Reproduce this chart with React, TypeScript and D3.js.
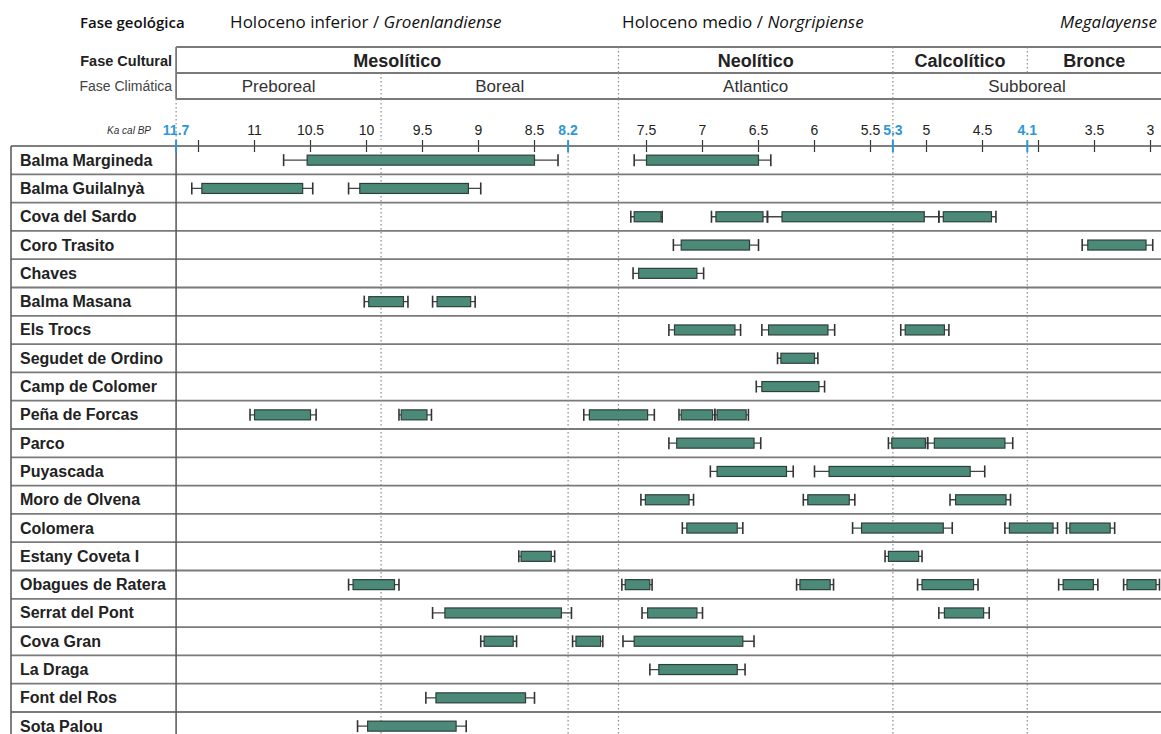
import React from 'react';
import * as d3 from 'd3';

// Sites, top to bottom
const sites = [
  'Balma Margineda', 'Balma Guilalnyà', 'Cova del Sardo', 'Coro Trasito', 'Chaves',
  'Balma Masana', 'Els Trocs', 'Segudet de Ordino', 'Camp de Colomer', 'Peña de Forcas',
  'Parco', 'Puyascada', 'Moro de Olvena', 'Colomera', 'Estany Coveta I',
  'Obagues de Ratera', 'Serrat del Pont', 'Cova Gran', 'La Draga', 'Font del Ros', 'Sota Palou',
];

// Calibrated ranges per site (ka cal BP): [outer old, inner old, inner young, outer young]
const siteRanges: number[][][] = [
  [[10.74, 10.53, 8.5, 8.29], [7.61, 7.5, 6.5, 6.39]],
  [[11.56, 11.47, 10.57, 10.48], [10.16, 10.06, 9.09, 8.98]],
  [[7.64, 7.61, 7.37, 7.36], [6.92, 6.88, 6.46, 6.42], [6.42, 6.29, 5.02, 4.89], [4.89, 4.85, 4.42, 4.38]],
  [[7.26, 7.19, 6.58, 6.5], [3.61, 3.56, 3.04, 2.98]],
  [[7.62, 7.57, 7.05, 6.99]],
  [[10.02, 9.98, 9.67, 9.63], [9.41, 9.37, 9.07, 9.03]],
  [[7.3, 7.25, 6.71, 6.66], [6.47, 6.41, 5.88, 5.82], [5.23, 5.19, 4.84, 4.8]],
  [[6.33, 6.3, 6.0, 5.97]],
  [[6.52, 6.47, 5.96, 5.91]],
  [[11.04, 11.0, 10.5, 10.45], [9.71, 9.69, 9.46, 9.42], [8.06, 8.01, 7.49, 7.43], [7.21, 7.19, 6.91, 6.89], [6.89, 6.87, 6.61, 6.59]],
  [[7.3, 7.23, 6.54, 6.48], [5.34, 5.31, 5.01, 4.99], [4.99, 4.93, 4.3, 4.23]],
  [[6.93, 6.87, 6.25, 6.19], [6.0, 5.87, 4.61, 4.48]],
  [[7.55, 7.51, 7.12, 7.08], [6.1, 6.06, 5.69, 5.64], [4.79, 4.74, 4.29, 4.25]],
  [[7.18, 7.14, 6.69, 6.64], [5.66, 5.58, 4.85, 4.77], [4.3, 4.26, 3.87, 3.83], [3.75, 3.72, 3.36, 3.32]],
  [[8.64, 8.62, 8.35, 8.32], [5.37, 5.34, 5.07, 5.04]],
  [[10.16, 10.12, 9.75, 9.71], [7.72, 7.69, 7.47, 7.45], [6.16, 6.13, 5.86, 5.83], [5.08, 5.04, 4.58, 4.54], [3.82, 3.78, 3.51, 3.47], [3.24, 3.21, 2.95, 2.92]],
  [[9.41, 9.3, 8.26, 8.17], [7.54, 7.49, 7.05, 7.0], [4.89, 4.84, 4.49, 4.44]],
  [[8.98, 8.95, 8.69, 8.66], [8.16, 8.13, 7.91, 7.89], [7.71, 7.61, 6.64, 6.54]],
  [[7.47, 7.39, 6.69, 6.62]],
  [[9.47, 9.38, 8.58, 8.5]],
  [[10.08, 9.99, 9.2, 9.11]],
];

// Axis ticks
const labelTicks = [11, 10.5, 10, 9.5, 9, 8.5, 7.5, 7, 6.5, 6, 5.5, 5, 4.5, 3.5, 3];
const plainTicks = [11.5, 4];
const boundaryTicks = [11.7, 8.2, 5.3, 4.1];

// Phases (start/end in ka cal BP)
const culturalPhases = [
  { name: 'Mesolítico', start: 11.7, end: 7.75 },
  { name: 'Neolítico', start: 7.75, end: 5.3 },
  { name: 'Calcolítico', start: 5.3, end: 4.1 },
  { name: 'Bronce', start: 4.1, end: 2.9 },
];
const climaticPhases = [
  { name: 'Preboreal', start: 11.7, end: 9.87 },
  { name: 'Boreal', start: 9.87, end: 7.75 },
  { name: 'Atlantico', start: 7.75, end: 5.3 },
  { name: 'Subboreal', start: 5.3, end: 2.9 },
];
const geoPhases = [
  { name: 'Holoceno inferior / ', stage: 'Groenlandiense', start: 11.7 },
  { name: 'Holoceno medio / ', stage: 'Norgripiense', start: 8.2 },
  { name: '', stage: 'Megalayense', start: 4.2 },
];

// Dotted guides
const gapGuides = [11.7, 9.87, 7.75, 5.3];
const bodyGuides = [9.87, 8.2, 7.75, 5.3, 4.1];

const W = 1161;
const H = 734;
const SANS = 'Liberation Sans, Arial, sans-serif';
const GEO = '"Open Sans", sans-serif';

export default function App() {
  const x = d3.scaleLinear().domain([11.7, 2.9]).range([176.1, 1161.7]);
  const rowTop = 146;
  const rowH = 28.3;
  const y = d3.scaleBand<string>().domain(sites).range([rowTop, rowTop + rowH * sites.length]);

  const cultTop = 47, cultBot = 73, climBot = 99;
  const axisY = rowTop;
  const tableLeft = 11;
  const plotLeft = x(11.7);
  const lineColor = '#7a7a7a';
  const dotted = { stroke: '#8a8a8a', strokeWidth: 1.2, strokeDasharray: '1.5 2.5' };
  const fmt = (v: number) => String(v);

  const boxH = 10;
  const capH = 12;

  return (
    <div style={{ position: 'absolute', left: 0, top: 0 }}>
      <svg width={W} height={H} style={{ display: 'block', background: '#fff' }}>
        {/* geological phases */}
        <text x={80} y={28} fontFamily={GEO} fontWeight={600} fontSize={15} fill="#111">Fase geológica</text>
        {geoPhases.map((g, i) => {
          const last = i === geoPhases.length - 1;
          return (
            <text key={g.stage} x={last ? W - 4 : x(g.start) + 54} y={28}
              textAnchor={last ? 'end' : 'start'} fontFamily={GEO} fontSize={17} fill="#111">
              {g.name}<tspan fontStyle="italic">{g.stage}</tspan>
            </text>
          );
        })}

        {/* header box */}
        <line x1={plotLeft} x2={W} y1={cultTop} y2={cultTop} stroke={lineColor} strokeWidth={1.8} />
        <line x1={plotLeft} x2={W} y1={cultBot} y2={cultBot} stroke={lineColor} strokeWidth={1.8} />
        <line x1={plotLeft} x2={W} y1={climBot} y2={climBot} stroke={lineColor} strokeWidth={1.8} />
        <line x1={plotLeft} x2={plotLeft} y1={cultTop} y2={climBot} stroke={lineColor} strokeWidth={1.8} />

        <text x={plotLeft - 4} y={(cultTop + cultBot) / 2 + 5.5} textAnchor="end" fontFamily={SANS} fontWeight="bold" fontSize={14.5} fill="#222">Fase Cultural</text>
        <text x={plotLeft - 4} y={(cultBot + climBot) / 2 + 5} textAnchor="end" fontFamily={SANS} fontSize={14} fill="#444">Fase Climática</text>

        {culturalPhases.map((p, i) => (
          <g key={p.name}>
            <text x={(x(p.start) + Math.min(x(p.end), W)) / 2} y={(cultTop + cultBot) / 2 + 6.5}
              textAnchor="middle" fontFamily={SANS} fontWeight="bold" fontSize={18} fill="#222">{p.name}</text>
            {i > 0 && <line x1={x(p.start)} x2={x(p.start)} y1={cultTop} y2={cultBot} {...dotted} />}
          </g>
        ))}
        {climaticPhases.map((p, i) => (
          <g key={p.name}>
            <text x={(x(p.start) + Math.min(x(p.end), W)) / 2} y={(cultBot + climBot) / 2 + 6}
              textAnchor="middle" fontFamily={SANS} fontSize={17} fill="#333">{p.name}</text>
            {i > 0 && <line x1={x(p.start)} x2={x(p.start)} y1={cultBot} y2={climBot} {...dotted} />}
          </g>
        ))}

        {gapGuides.map((v) => (
          <line key={'g' + v} x1={x(v)} x2={x(v)} y1={climBot} y2={axisY - 6} {...dotted} />
        ))}

        {/* axis */}
        <text x={151} y={134} textAnchor="end" fontFamily={SANS} fontStyle="italic" fontSize={10} fill="#333">Ka cal BP</text>
        {labelTicks.map((v) => (
          <g key={'t' + v}>
            <line x1={x(v)} x2={x(v)} y1={axisY - 6} y2={axisY + 6} stroke="#333" strokeWidth={1.2} />
            <text x={x(v)} y={134.5} textAnchor="middle" fontFamily={SANS} fontSize={14} fill="#222">{fmt(v)}</text>
          </g>
        ))}
        {plainTicks.map((v) => (
          <line key={'p' + v} x1={x(v)} x2={x(v)} y1={axisY - 6} y2={axisY + 6} stroke="#333" strokeWidth={1.2} />
        ))}

        {/* table grid */}
        {sites.map((s) => (
          <line key={'r' + s} x1={tableLeft} x2={W} y1={y(s)! + rowH} y2={y(s)! + rowH}
            stroke={lineColor} strokeWidth={1.8} />
        ))}
        <line x1={tableLeft} x2={W} y1={axisY} y2={axisY} stroke="#555" strokeWidth={1.5} />
        <line x1={tableLeft} x2={tableLeft} y1={axisY} y2={H} stroke="#555" strokeWidth={1.5} />
        <line x1={plotLeft} x2={plotLeft} y1={axisY} y2={H} stroke="#555" strokeWidth={1.5} />

        {bodyGuides.map((v) => (
          <line key={'b' + v} x1={x(v)} x2={x(v)} y1={axisY + 2} y2={H} {...dotted} />
        ))}

        {boundaryTicks.map((v) => (
          <g key={'bt' + v}>
            <line x1={x(v)} x2={x(v)} y1={axisY - 6} y2={axisY + 6} stroke="#2f97d3" strokeWidth={2} />
            <text x={x(v)} y={134.5} textAnchor="middle" fontFamily={SANS} fontWeight="bold" fontSize={14} fill="#2f97d3">{fmt(v)}</text>
          </g>
        ))}

        {/* site names */}
        {sites.map((s) => (
          <text key={'n' + s} x={20} y={y(s)! + rowH / 2 + 5.5} fontFamily={SANS} fontWeight="bold" fontSize={16} fill="#222">{s}</text>
        ))}

        {/* date ranges */}
        {sites.map((s, i) => {
          const cy = y(s)! + rowH / 2;
          return (
            <g key={'d' + s}>
              {siteRanges[i].map((r, j) => {
                const [w0, b0, b1, w1] = r.map((v) => x(v));
                return (
                  <g key={j}>
                    <line x1={w0} x2={w1} y1={cy} y2={cy} stroke="#444" strokeWidth={1.3} />
                    <line x1={w0} x2={w0} y1={cy - capH / 2} y2={cy + capH / 2} stroke="#333" strokeWidth={1.6} />
                    <line x1={w1} x2={w1} y1={cy - capH / 2} y2={cy + capH / 2} stroke="#333" strokeWidth={1.6} />
                    <rect x={b0} y={cy - boxH / 2} width={b1 - b0} height={boxH}
                      fill="#4b8a79" stroke="#2e3f3a" strokeWidth={1.2} />
                  </g>
                );
              })}
            </g>
          );
        })}
      </svg>
    </div>
  );
}
